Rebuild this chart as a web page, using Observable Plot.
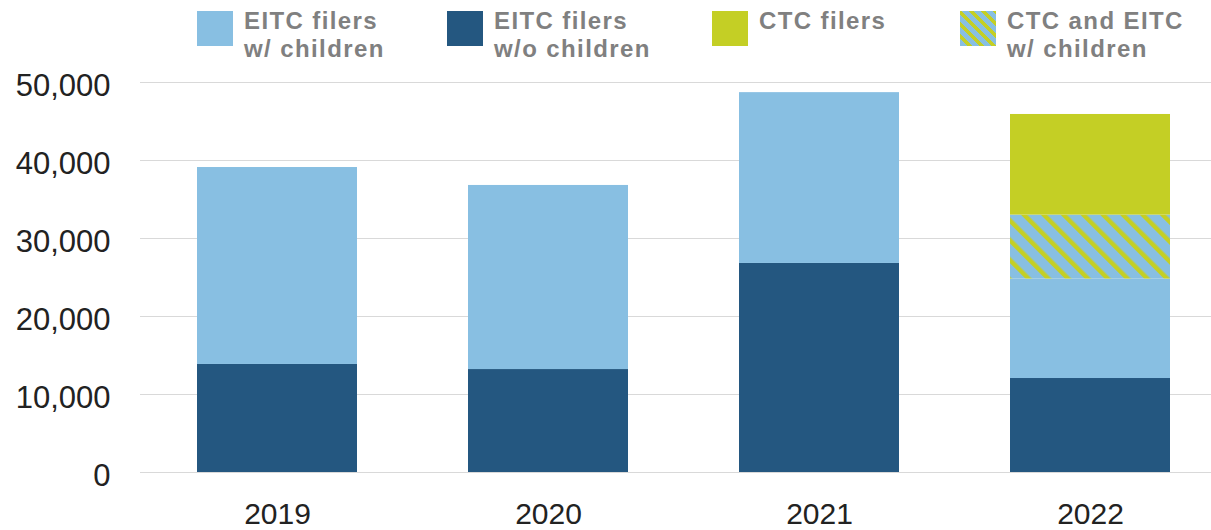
<!DOCTYPE html>
<html>
<head>
<meta charset="utf-8">
<script src="https://cdn.jsdelivr.net/npm/d3@7"></script>
<script src="https://cdn.jsdelivr.net/npm/@observablehq/plot@0.6"></script>
<style>
  html, body { margin: 0; padding: 0; background: #fff; }
  #wrap { width: 1211px; }
  #legend { position: relative; height: 65px; width: 1211px; font-family: "Liberation Sans", Arial, sans-serif; }
  .sw { position: absolute; top: 11px; width: 36px; height: 35px; }
  .lab { position: absolute; top: 7px; font-weight: bold; font-size: 24px; line-height: 28px; color: #808080; letter-spacing: 1.4px; white-space: nowrap; }
  svg { display: block; }
</style>
</head>
<body>
<div id="wrap">
  <div id="legend"></div>
  <div id="chart"></div>
</div>
<script>
const years = ["2019", "2020", "2021", "2022"];
const eitcWithout = [13850, 13200, 26800, 12050];
const eitcWith = [25250, 23600, 21900, 12750];
const ctcAndEitcWith = [0, 0, 0, 8200];
const ctcOnly = [0, 0, 0, 12900];
const seriesNames = ["EITC filers w/o children", "EITC filers w/ children", "CTC and EITC w/ children", "CTC filers"];
const seriesValues = [eitcWithout, eitcWith, ctcAndEitcWith, ctcOnly];
const seriesColors = ["#245780", "#88bfe2", "url(#hatch)", "#c4cf25"];
const yTicks = [0, 10000, 20000, 30000, 40000, 50000];

const legendItems = [
  {label: ["EITC filers", "w/ children"], css: "#88bfe2", x: 197},
  {label: ["EITC filers", "w/o children"], css: "#245780", x: 447},
  {label: ["CTC filers"], css: "#c4cf25", x: 712},
  {label: ["CTC and EITC", "w/ children"], css: "repeating-linear-gradient(45deg, #88bfe2 0px, #88bfe2 5.5px, #c4cf25 5.5px, #c4cf25 8.5px)", x: 960}
];

const data = [];
years.forEach((yr, i) => {
  seriesNames.forEach((s, j) => {
    data.push({year: yr, series: s, value: seriesValues[j][i]});
  });
});

const legend = document.getElementById("legend");
legendItems.forEach(it => {
  const sw = document.createElement("div");
  sw.className = "sw";
  sw.style.left = it.x + "px";
  sw.style.background = it.css;
  legend.appendChild(sw);
  const lab = document.createElement("div");
  lab.className = "lab";
  lab.style.left = (it.x + 47) + "px";
  lab.innerHTML = it.label.join("<br>");
  legend.appendChild(lab);
});

const chart = Plot.plot({
  width: 1211,
  height: 465,
  marginTop: 17,
  marginBottom: 58,
  marginLeft: 140,
  marginRight: 0,
  style: {fontFamily: "'Liberation Sans', Arial, sans-serif", fontSize: "31px", color: "#222", background: "#fff"},
  x: {domain: years, range: [140.5, 1225.5], paddingInner: 0.41, paddingOuter: 0.205, label: null},
  y: {domain: [0, 50000], label: null},
  color: {domain: seriesNames, range: seriesColors},
  marks: [
    Plot.ruleY(yTicks, {stroke: "#d9d9d9", strokeWidth: 1.2}),
    Plot.barY(data, {x: "year", y: "value", fill: "series", order: seriesNames}),
    Plot.axisY({ticks: yTicks, tickSize: 0, tickPadding: 30, tickFormat: d3.format(","), dy: 4, label: null, fontSize: 31, fill: "#222"}),
    Plot.axisX({tickSize: 0, tickPadding: 30, label: null, fontSize: 30, fill: "#222"})
  ]
});

const ns = "http://www.w3.org/2000/svg";
const defs = document.createElementNS(ns, "defs");
defs.innerHTML = '<pattern id="hatch" patternUnits="userSpaceOnUse" width="14" height="14" patternTransform="rotate(-45)"><rect width="14" height="14" fill="#88bfe2"/><rect width="4.5" height="14" fill="#c4cf25"/></pattern>';
chart.insertBefore(defs, chart.firstChild);
document.getElementById("chart").appendChild(chart);
</script>
</body>
</html>
